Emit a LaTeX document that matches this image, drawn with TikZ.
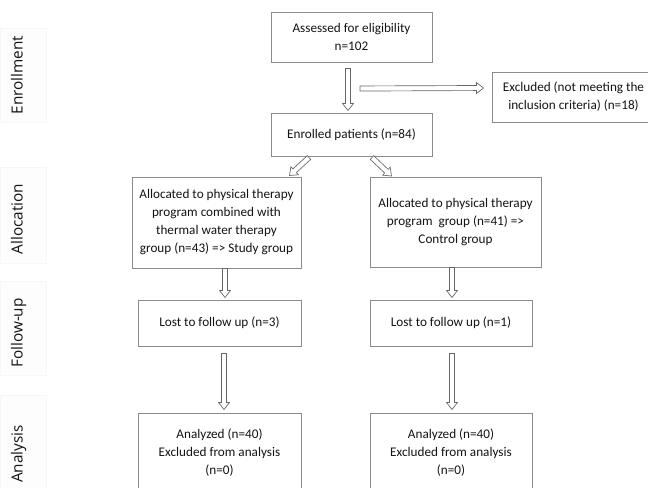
\documentclass[tikz,border=0pt]{standalone}
\usepackage{fontspec}
\setmainfont{Carlito}
\newfontfamily\phasefont{Open Sans}
\usetikzlibrary{calc}

\tikzset{
  flowbox/.style 2 args={draw=black!45, line width=0.75pt, fill=white, align=center, inner sep=0pt,
    minimum width=#1*0.75pt, minimum height=#2*0.75pt, font=\fontsize{9.9}{13.5}\selectfont, text=black!92},
  phase/.style={rotate=90, anchor=base, font=\phasefont\fontsize{11.5}{14}\selectfont, text=black!92},
  phasepanel/.style={draw=black!3, fill=black!0.7, line width=0.4pt},
  arrowline/.style={draw=black!60, fill=white, line width=0.5pt, line join=miter}
}

% hollow block arrow between two points
\newcommand{\blockarrow}[2]{%
  \path (#1) coordinate (ba-s) (#2) coordinate (ba-t);
  \coordinate (ba-b) at ($(ba-t)!5.25pt!(ba-s)$);
  \draw[arrowline] ($(ba-s)!1.9pt!90:(ba-t)$) -- ($(ba-b)!1.9pt!90:(ba-t)$)
    -- ($(ba-b)!4.1pt!90:(ba-t)$) -- (ba-t) -- ($(ba-b)!4.1pt!-90:(ba-t)$)
    -- ($(ba-b)!1.9pt!-90:(ba-t)$) -- ($(ba-s)!1.9pt!-90:(ba-t)$) -- cycle;}

\begin{document}
\begin{tikzpicture}[x=0.75pt, y=-0.75pt]
  \useasboundingbox (0,0) rectangle (648,487);
  % phases on the left
  \path[phasepanel] (0,28) rectangle (46,122);
  \path[phasepanel] (0,167) rectangle (46,263);
  \path[phasepanel] (0,281) rectangle (46,375);
  \path[phasepanel] (0,395) rectangle (46,490);
  \node[phase] (enrolphase) at (22.5,75) {Enrollment};
  \node[phase] (allocphase) at (22.5,219) {Allocation};
  \node[phase] (followphase) at (22.5,333) {Follow-up};
  \node[phase] (analysisphase) at (22.5,454) {Analysis};

  % boxes
  \node[flowbox={161}{50}] (assess) at (351.5,37) {Assessed for eligibility\\n=102};
  \node[flowbox={161}{43}] (enrolled) at (351.5,134.5) {Enrolled patients (n=84)};
  \node[flowbox={163}{50}] (excluded) at (573.5,97) {Excluded (not meeting the\\inclusion criteria) (n=18)};
  \node[flowbox={169}{91}] (studygrp) at (216.5,222.5) {Allocated to physical therapy\\program combined with\\thermal water therapy\\group (n=43) => Study group};
  \node[flowbox={171}{90}] (controlgrp) at (455.5,222) {Allocated to physical therapy\\program\ \ group (n=41) =>\\Control group};
  \node[flowbox={163}{46}] (lostA) at (219.5,323) {Lost to follow up (n=3)};
  \node[flowbox={162}{46}] (lostB) at (451,323) {Lost to follow up (n=1)};
  \node[flowbox={163}{79}] (analysedA) at (219.5,452.5) {Analyzed (n=40)\\Excluded from analysis\\(n=0)};
  \node[flowbox={162}{79}] (analysedB) at (451,452.5) {Analyzed (n=40)\\Excluded from analysis\\(n=0)};

  % arrows
  \blockarrow{$(assess.south)+(-3.5,6)$}{$(enrolled.north)+(-3.5,-2)$}
  \blockarrow{$(assess.south)+(8.5,26)$}{$(excluded.west)+(-8,-9)$}
  \blockarrow{$(enrolled.south)+(-42.5,1)$}{$(studygrp.north east)+(-12,-1)$}
  \blockarrow{$(enrolled.south)+(20.5,1)$}{$(controlgrp.north west)+(22,-0.5)$}
  \blockarrow{$(studygrp.south)+(8.5,0)$}{$(lostA.north)+(5.5,-2)$}
  \blockarrow{$(controlgrp.south)+(-3.5,0)$}{$(lostB.north)+(1,-2)$}
  \blockarrow{$(lostA.south)+(4.5,7)$}{$(analysedA.north)+(4.5,-3)$}
  \blockarrow{$(lostB.south)+(1,7)$}{$(analysedB.north)+(1,-3)$}
\end{tikzpicture}
\end{document}
